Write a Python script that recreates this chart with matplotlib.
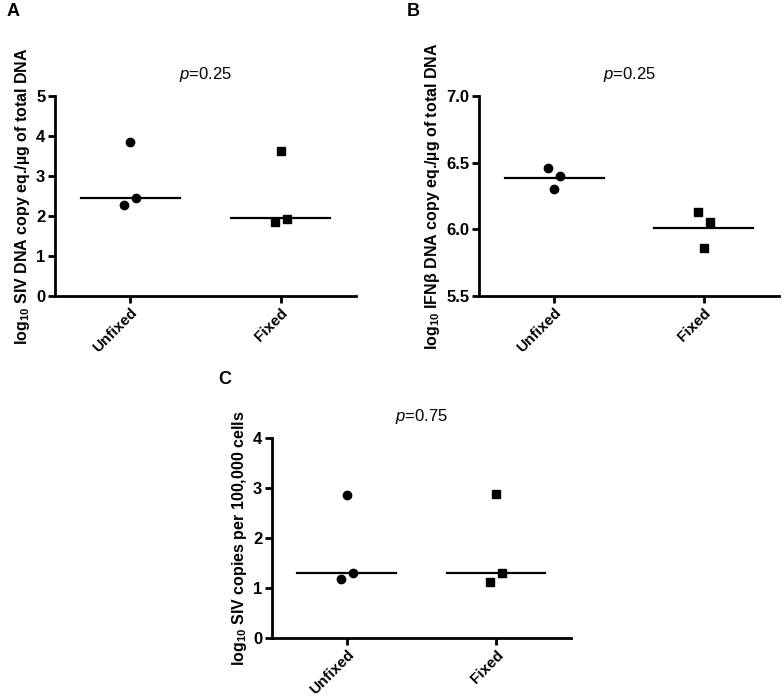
import numpy as np
import matplotlib
matplotlib.use('Agg')
from matplotlib import pyplot as plt

plt.rcParams['font.family'] = 'Liberation Sans'
plt.rcParams['mathtext.fontset'] = 'custom'
plt.rcParams['mathtext.rm'] = 'Liberation Sans:bold'
plt.rcParams['mathtext.bf'] = 'Liberation Sans:bold'
plt.rcParams['mathtext.sf'] = 'Liberation Sans:italic'
plt.rcParams['mathtext.default'] = 'rm'

groups = ['Unfixed', 'Fixed']

# panel A: log10 SIV DNA copy eq./ug total DNA
a_unfixed = [3.85, 2.28, 2.46]
a_fixed = [3.63, 1.85, 1.93]
a_median = [2.46, 1.94]

# panel B: log10 IFNb DNA copy eq./ug total DNA
b_unfixed = [6.46, 6.40, 6.30]
b_fixed = [6.13, 6.055, 5.86]
b_median = [6.385, 6.01]

# panel C: log10 SIV copies per 100,000 cells
c_unfixed = [2.86, 1.18, 1.30]
c_fixed = [2.88, 1.12, 1.30]
c_median = [1.30, 1.30]

jitter_u = [0.0, -0.04, 0.04]
jitter_f = [0.0, -0.04, 0.04]
jitter_b_u = [-0.04, 0.04, 0.0]
jitter_b_f = [-0.04, 0.04, 0.0]

fig = plt.figure(figsize=(7.84, 6.99), dpi=100)


def panel(rect, unf, fix, med, ju, jf, ylim, yticks, yfmt, ylabel, ptxt):
    ax = fig.add_axes(rect)
    ax.plot(np.zeros(3) + ju, unf, 'o', color='black', markersize=6)
    ax.plot(np.ones(3) + jf, fix, 's', color='black', markersize=5.5)
    for i, m in enumerate(med):
        ax.plot([i - 0.33, i + 0.33], [m, m], color='black', lw=1.6)
    ax.set_xlim(-0.5, 1.5)
    ax.set_ylim(*ylim)
    ax.set_yticks(yticks)
    ax.set_yticklabels([yfmt.format(v) for v in yticks], fontweight='bold', fontsize=12)
    ax.set_xticks([0, 1])
    ax.set_xticklabels(groups, rotation=45, ha='right', rotation_mode='anchor',
                       fontweight='bold', fontsize=11)
    for s in ['top', 'right']:
        ax.spines[s].set_visible(False)
    for s in ['left', 'bottom']:
        ax.spines[s].set_linewidth(2)
    ax.tick_params(width=2, length=5, pad=2)
    ax.set_ylabel(ylabel, fontweight='bold', fontsize=11.5, labelpad=3)
    ax.set_title(r'$\mathsf{p}$=' + ptxt, fontsize=12, pad=12)
    return ax


axA = panel([0.0702, 0.5765, 0.3838, 0.2862], a_unfixed, a_fixed, a_median,
            jitter_u, jitter_f, (0, 5), [0, 1, 2, 3, 4, 5], '{:d}',
            r'log$_{10}$ SIV DNA copy eq./µg of total DNA', '0.25')
axB = panel([0.611, 0.5765, 0.3826, 0.2862], b_unfixed, b_fixed, b_median,
            jitter_b_u, jitter_b_f, (5.5, 7.0), [5.5, 6.0, 6.5, 7.0], '{:.1f}',
            r'log$_{10}$ IFNβ DNA copy eq./µg of total DNA', '0.25')
axC = panel([0.347, 0.0873, 0.381, 0.2861], c_unfixed, c_fixed, c_median,
            jitter_u, jitter_f, (0, 4), [0, 1, 2, 3, 4], '{:d}',
            r'log$_{10}$ SIV copies per 100,000 cells', '0.75')

fig.text(7 / 784, 1 - 12 / 699, 'A', fontweight='bold', fontsize=13, va='center')
fig.text(407 / 784, 1 - 12 / 699, 'B', fontweight='bold', fontsize=13, va='center')
fig.text(218 / 784, 1 - 380 / 699, 'C', fontweight='bold', fontsize=13, va='center')

fig.savefig('out.png', dpi=100)
